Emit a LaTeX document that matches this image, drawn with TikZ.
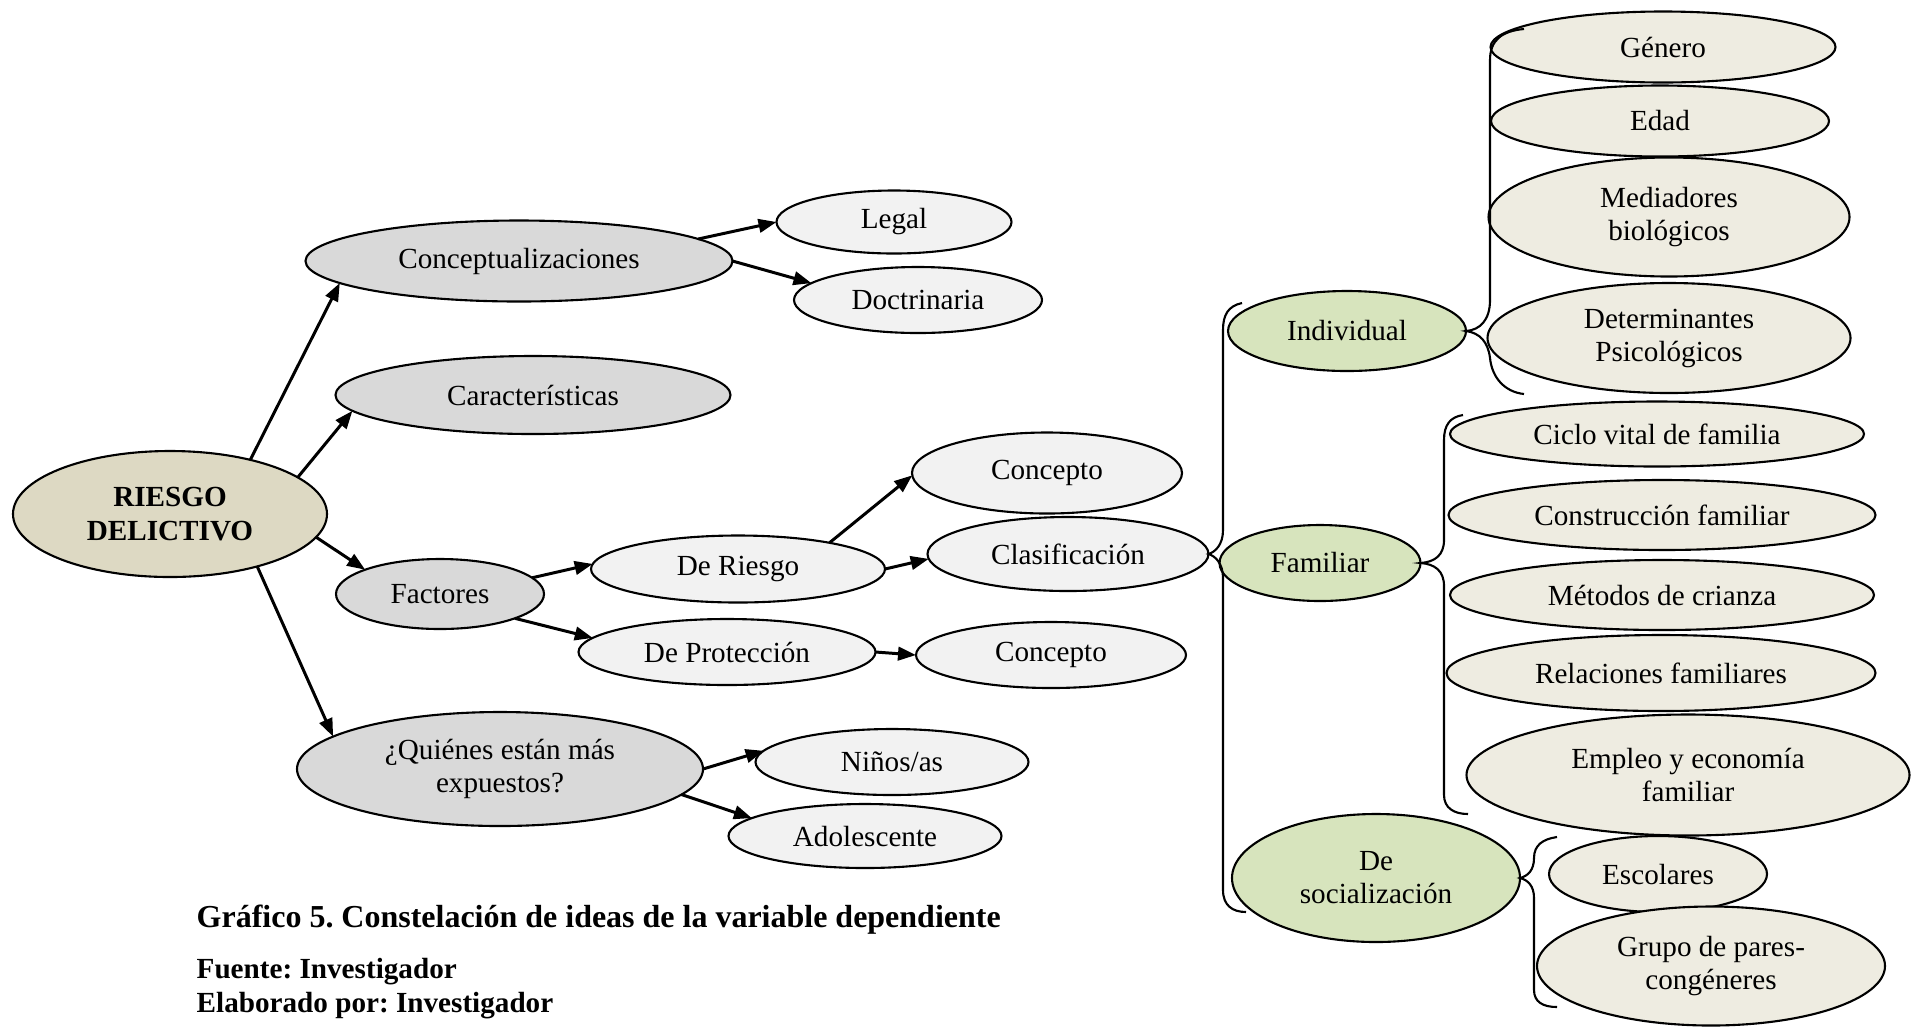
\documentclass[tikz,border=0pt]{standalone}
\usepackage{fontspec}
\setmainfont{Liberation Serif}
\frenchspacing
\usetikzlibrary{positioning, calc, shapes.geometric, arrows.meta}
\definecolor{coretan}{HTML}{DDD9C3}
\definecolor{midgray}{HTML}{D9D9D9}
\definecolor{palegray}{HTML}{F2F2F2}
\definecolor{sagegreen}{HTML}{D7E4BD}
\definecolor{paletan}{HTML}{EEECE1}

\begin{document}
\begin{tikzpicture}[
    bubble/.style={
        ellipse,
        draw=black,
        line width=0.6pt,
        inner sep=0pt,
        outer sep=0pt,
        align=center,
        font=\fontsize{8.3}{9.4}\selectfont
    },
    core/.style={bubble, fill=coretan, font=\fontsize{8.3}{9.6}\selectfont\bfseries},
    mainidea/.style={bubble, fill=midgray},
    subidea/.style={bubble, fill=palegray},
    group/.style={bubble, fill=sagegreen},
    leaf/.style={bubble, fill=paletan},
    link/.style={->, line width=0.85pt},
    brace/.style={line width=0.6pt},
    >={Triangle[length=1.8mm, width=1.35mm]}
]

\useasboundingbox (0,0) rectangle (19.23,-10.27);

% --- CENTRE ---
\node[core, minimum width=3.14cm, minimum height=1.26cm] (riesgo) at (1.70,-5.14) {RIESGO\\DELICTIVO};

% --- FIRST LEVEL ---
\node[mainidea, minimum width=4.27cm, minimum height=0.81cm] (concep) at (5.19,-2.61) {Conceptualizaciones};
\node[mainidea, minimum width=3.95cm, minimum height=0.78cm] (caract) at (5.33,-3.95) {Características};
\node[mainidea, minimum width=2.08cm, minimum height=0.70cm] (factores) at (4.40,-5.94) {Factores};
\node[mainidea, minimum width=4.06cm, minimum height=1.14cm] (quienes) at (5.00,-7.69) {¿Quiénes están más\\expuestos?};

% --- SECOND LEVEL ---
\node[subidea, minimum width=2.35cm, minimum height=0.63cm] (legal) at (8.94,-2.22) {Legal};
\node[subidea, minimum width=2.48cm, minimum height=0.66cm] (doctri) at (9.18,-3.00) {Doctrinaria};
\node[subidea, minimum width=2.70cm, minimum height=0.81cm] (concepto1) at (10.47,-4.73) {Concepto};
\node[subidea, minimum width=2.94cm, minimum height=0.67cm] (riesgofac) at (7.38,-5.69) {De Riesgo};
\node[subidea, minimum width=2.81cm, minimum height=0.74cm] (clasif) at (10.68,-5.54) {Clasificación};
\node[subidea, minimum width=2.97cm, minimum height=0.66cm] (proteccion) at (7.27,-6.52) {De Protección};
\node[subidea, minimum width=2.70cm, minimum height=0.66cm] (concepto2) at (10.51,-6.55) {Concepto};
\node[subidea, minimum width=2.73cm, minimum height=0.66cm] (ninos) at (8.92,-7.62) {Niños/as};
\node[subidea, minimum width=2.73cm, minimum height=0.64cm] (adolesc) at (8.65,-8.36) {Adolescente};

% --- GROUPS ---
\node[group, minimum width=2.38cm, minimum height=0.80cm] (individual) at (13.47,-3.31) {Individual};
\node[group, minimum width=2.01cm, minimum height=0.76cm] (familiar) at (13.20,-5.63) {Familiar};
\node[group, minimum width=2.88cm, minimum height=1.28cm] (social) at (13.76,-8.78) {De\\socialización};

% --- LEAVES ---
\node[leaf, minimum width=3.45cm, minimum height=0.71cm] (genero) at (16.63,-0.47) {Género};
\node[leaf, minimum width=3.38cm, minimum height=0.71cm] (edad) at (16.60,-1.21) {Edad};
\node[leaf, minimum width=3.61cm, minimum height=1.19cm] (mediad) at (16.69,-2.17) {Mediadores\\biológicos};
\node[leaf, minimum width=3.63cm, minimum height=1.10cm] (determ) at (16.69,-3.38) {Determinantes\\Psicológicos};
\node[leaf, minimum width=4.14cm, minimum height=0.65cm] (ciclo) at (16.57,-4.34) {Ciclo vital de familia};
\node[leaf, minimum width=4.27cm, minimum height=0.70cm] (constr) at (16.62,-5.15) {Construcción familiar};
\node[leaf, minimum width=4.24cm, minimum height=0.70cm] (metodos) at (16.62,-5.95) {Métodos de crianza};
\node[leaf, minimum width=4.29cm, minimum height=0.76cm] (relac) at (16.61,-6.73) {Relaciones familiares};
\node[leaf, minimum width=4.43cm, minimum height=1.21cm] (empleo) at (16.88,-7.75) {Empleo y economía\\familiar};
\node[leaf, minimum width=2.18cm, minimum height=0.76cm] (escol) at (16.58,-8.74) {Escolares};
\node[leaf, minimum width=3.48cm, minimum height=1.19cm] (grupo) at (17.11,-9.66) {Grupo de pares-\\congéneres};

% --- ARROWS ---
\draw[link] (riesgo.34) -- (concep.187);
\draw[link] (riesgo.16) -- (caract.185);
\draw[link] (riesgo.351) -- (factores.162);
\draw[link] (riesgo.329) -- (quienes.169);
\draw[link] (concep.7) -- (legal.180);
\draw[link] (concep.0) -- (doctri.171);
\draw[link] (factores.10) -- (riesgofac.178);
\draw[link] (factores.342) -- (proteccion.174);
\draw[link] (riesgofac.16) -- (concepto1.181);
\draw[link] (riesgofac.0) -- (clasif.182);
\draw[link] (proteccion.0) -- (concepto2.180);
\draw[link] (quienes.0) -- (ninos.175);
\draw[link] (quienes.352) -- (adolesc.171);

% --- BRACES ---
\draw[brace] (12.42,-3.03) .. controls (12.28,-3.06) and (12.23,-3.15) .. (12.23,-3.30)
    -- (12.23,-5.30) .. controls (12.23,-5.45) and (12.15,-5.52) .. (clasif.east)
    .. controls (12.15,-5.56) and (12.23,-5.63) .. (12.23,-5.78)
    -- (12.23,-8.90) .. controls (12.23,-9.05) and (12.32,-9.12) .. (12.46,-9.12);
\draw[brace] (15.24,-0.29) .. controls (15.02,-0.31) and (14.90,-0.40) .. (14.90,-0.60)
    -- (14.90,-3.00) .. controls (14.90,-3.20) and (14.80,-3.30) .. (individual.east)
    .. controls (14.80,-3.33) and (14.88,-3.42) .. (14.90,-3.58)
    .. controls (14.92,-3.78) and (15.05,-3.92) .. (15.24,-3.94);
\draw[brace] (14.63,-4.15) .. controls (14.50,-4.17) and (14.44,-4.25) .. (14.44,-4.40)
    -- (14.44,-5.40) .. controls (14.44,-5.55) and (14.35,-5.62) .. (familiar.east)
    .. controls (14.35,-5.64) and (14.44,-5.71) .. (14.44,-5.86)
    -- (14.44,-7.95) .. controls (14.44,-8.08) and (14.54,-8.14) .. (14.68,-8.14);
\draw[brace] (15.57,-8.37) .. controls (15.43,-8.39) and (15.34,-8.45) .. (15.34,-8.58)
    .. controls (15.34,-8.70) and (15.28,-8.76) .. (social.east)
    .. controls (15.28,-8.80) and (15.34,-8.86) .. (15.34,-8.98)
    -- (15.34,-9.90) .. controls (15.34,-10.02) and (15.43,-10.07) .. (15.57,-10.07);

% --- CAPTION ---
\node[anchor=west, inner sep=0pt, font=\fontsize{9.1}{10}\selectfont\bfseries] (caption) at (1.96,-9.20)
    {Gráfico 5. Constelación de ideas de la variable dependiente};
\node[anchor=north west, inner sep=0pt, align=left, font=\fontsize{8.3}{9.4}\selectfont\bfseries] (source) at (1.96,-9.58)
    {Fuente: Investigador\\Elaborado por: Investigador};

\end{tikzpicture}
\end{document}
